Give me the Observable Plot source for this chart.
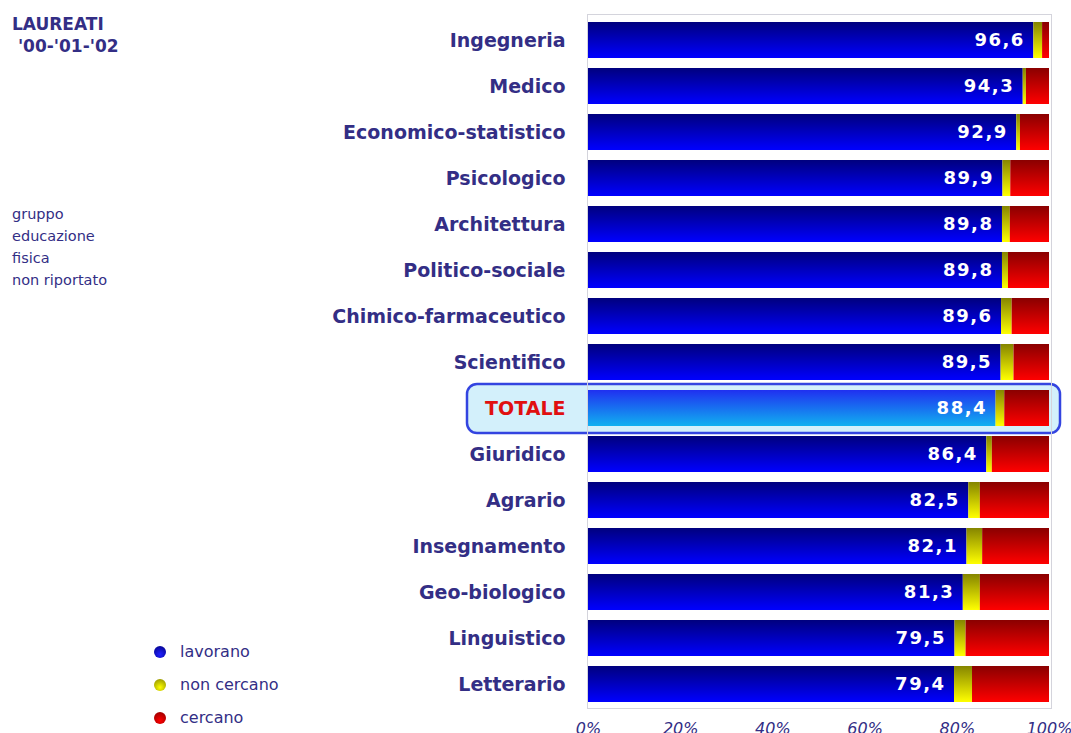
<!DOCTYPE html>
<html>
<head>
<meta charset="utf-8">
<script src="https://cdn.jsdelivr.net/npm/d3@7"></script>
<script src="https://cdn.jsdelivr.net/npm/@observablehq/plot@0.6"></script>
<style>
  body { margin: 0; background: #fff; font-family: "DejaVu Sans", Verdana, sans-serif; }
  #wrap { position: relative; width: 1071px; height: 733px; overflow: hidden; }
  #wrap svg.chart { position: absolute; left: 0; top: 0; }
  .ov { position: absolute; color: #332e85; }
  .vals text { letter-spacing: 1.5px; }
  .leg { position: absolute; left: 154px; font-size: 16px; color: #332e85; }
  .leg span.dot { display: inline-block; width: 12px; height: 12px; border-radius: 50%; margin-right: 14px; vertical-align: -1px; }
</style>
</head>
<body>
<div id="wrap">
  <div class="ov" style="left:12px; top:13px; font-size:17px; font-weight:bold; line-height:22px;">LAUREATI<br>&nbsp;'00-'01-'02</div>
  <div class="ov" style="left:12px; top:203px; font-size:14.5px; line-height:22px;">gruppo<br>educazione<br>fisica<br>non riportato</div>
</div>
<script>
const categories = ["Ingegneria","Medico","Economico-statistico","Psicologico","Architettura","Politico-sociale","Chimico-farmaceutico","Scientifico","TOTALE","Giuridico","Agrario","Insegnamento","Geo-biologico","Linguistico","Letterario"];
const lavorano   = [96.6, 94.3, 92.9, 89.9, 89.8, 89.8, 89.6, 89.5, 88.4, 86.4, 82.5, 82.1, 81.3, 79.5, 79.4];
const nonCercano = [1.9, 0.7, 0.8, 1.7, 1.7, 1.3, 2.3, 2.8, 1.9, 1.2, 2.5, 3.4, 3.7, 2.4, 3.9];
const cercano    = [1.5, 5.0, 6.3, 8.4, 8.5, 8.9, 8.1, 7.7, 9.7, 12.4, 15.0, 14.5, 15.0, 18.1, 16.7];
const seriesNames = ["lavorano", "non cercano", "cercano"];
const xTicks = [0, 20, 40, 60, 80, 100];
const totalLabel = "TOTALE";

const rows = categories.map((c, i) => ({
  cat: c, lav: lavorano[i], non: nonCercano[i], cer: cercano[i], total: c === totalLabel
}));

const navy = "#332e85";
const font = "DejaVu Sans, Verdana, sans-serif";

const chart = Plot.plot({
  width: 1071,
  height: 733,
  marginLeft: 588,
  marginRight: 22,
  marginTop: 10,
  marginBottom: 20,
  style: { fontFamily: font, background: "transparent", overflow: "visible" },
  x: { domain: [0, 100], axis: null, label: null },
  y: { domain: categories, padding: 0.22, axis: null, label: null },
  marks: [
    // highlight box for TOTALE
    Plot.barX(rows.filter(d => d.total), {
      x1: 0, x2: 100, y: "cat",
      insetLeft: -121, insetRight: -11, insetTop: -6, insetBottom: -7,
      rx: 10, fill: "#d3f0fb", stroke: "#3344e0", strokeWidth: 2.5
    }),
    Plot.frame({ stroke: "#d4d4dc", insetTop: 4, insetBottom: 5, insetLeft: -1, insetRight: -2 }),
    Plot.barX(rows.filter(d => !d.total), { x1: 0, x2: "lav", y: "cat", fill: "url(#gBlue)" }),
    Plot.barX(rows.filter(d => d.total), { x1: 0, x2: "lav", y: "cat", fill: "url(#gTot)" }),
    Plot.barX(rows, { x1: "lav", x2: d => d.lav + d.non, y: "cat", fill: "url(#gYel)" }),
    Plot.barX(rows, { x1: d => d.lav + d.non, x2: d => d.lav + d.non + d.cer, y: "cat", fill: "url(#gRed)" }),
    Plot.text(rows, {
      x: "lav", y: "cat", text: d => String(d.lav.toFixed(1)).replace(".", ","),
      textAnchor: "end", dx: -9, fill: "white", fontWeight: "bold", fontSize: 18,
      className: "vals"
    }),
    Plot.text(rows, {
      x: 0, y: "cat", text: "cat", textAnchor: "end", dx: -23,
      fill: d => d.total ? "#e01010" : navy, fontWeight: "bold", fontSize: 19
    }),
    Plot.axisX({
      ticks: xTicks, tickFormat: d => d + "%", tickSize: 0, tickPadding: 9,
      fontSize: 16, fontStyle: "italic", fill: navy, color: navy, label: null
    })
  ]
});
chart.classList.add("chart");

const defs = d3.select(chart).insert("defs", ":first-child");
function grad(id, top, bottom) {
  const g = defs.append("linearGradient").attr("id", id)
    .attr("x1", 0).attr("y1", 0).attr("x2", 0).attr("y2", 1);
  g.append("stop").attr("offset", "0%").attr("stop-color", top);
  g.append("stop").attr("offset", "100%").attr("stop-color", bottom);
}
grad("gBlue", "#00007e", "#0000ff");
grad("gTot", "#2030f0", "#10b0f0");
grad("gYel", "#858500", "#ffff00");
grad("gRed", "#8a0000", "#ff0000");

const wrap = document.getElementById("wrap");
wrap.insertBefore(chart, wrap.firstChild);

// legend
const legColors = [["#00007e", "#2020ff"], ["#858500", "#ffff00"], ["#8a0000", "#ff0000"]];
const legTops = [642, 675, 708];
seriesNames.forEach((name, i) => {
  const div = document.createElement("div");
  div.className = "leg";
  div.style.top = legTops[i] + "px";
  const dot = document.createElement("span");
  dot.className = "dot";
  dot.style.background = `radial-gradient(circle at 50% 70%, ${legColors[i][1]}, ${legColors[i][0]})`;
  div.appendChild(dot);
  div.appendChild(document.createTextNode(name));
  wrap.appendChild(div);
});
</script>
</body>
</html>
